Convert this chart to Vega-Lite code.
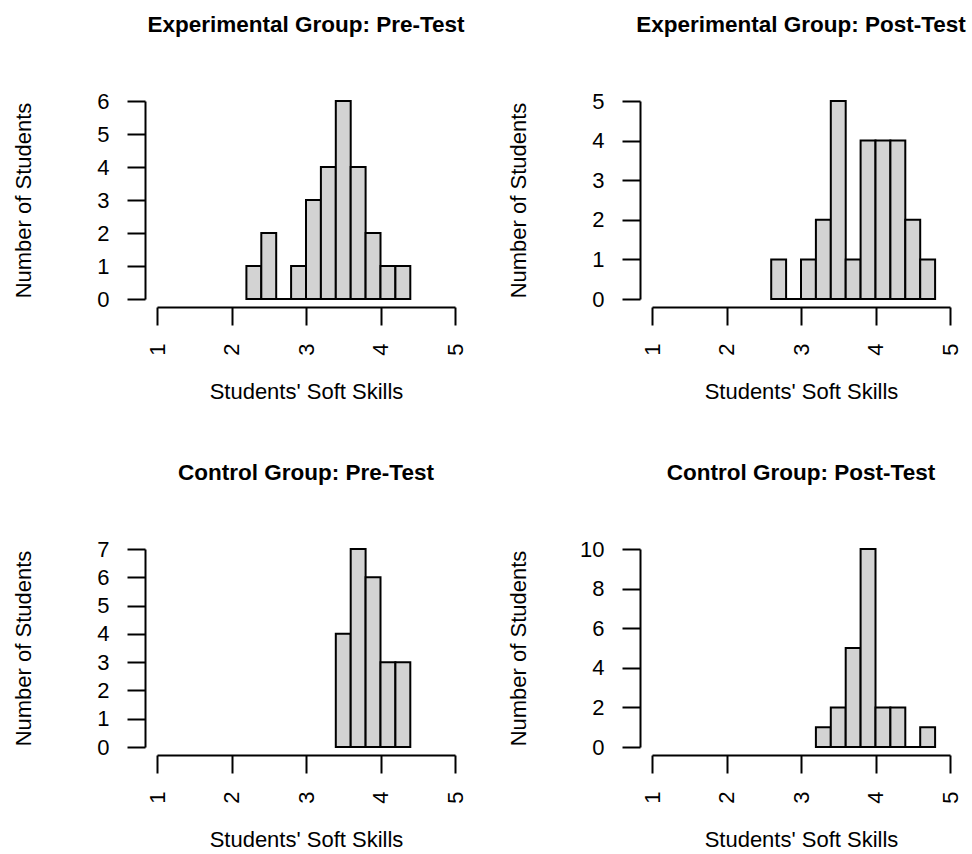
{
  "$schema": "https://vega.github.io/schema/vega-lite/v6.json",
  "background": "white",
  "padding": {"left": 12, "top": 13, "right": 5, "bottom": 5},
  "data": {"values": [
    {"panel": "Experimental Group: Pre-Test", "bin_start": 2.2, "bin_end": 2.4, "count": 1},
    {"panel": "Experimental Group: Pre-Test", "bin_start": 2.4, "bin_end": 2.6, "count": 2},
    {"panel": "Experimental Group: Pre-Test", "bin_start": 2.6, "bin_end": 2.8, "count": 0},
    {"panel": "Experimental Group: Pre-Test", "bin_start": 2.8, "bin_end": 3.0, "count": 1},
    {"panel": "Experimental Group: Pre-Test", "bin_start": 3.0, "bin_end": 3.2, "count": 3},
    {"panel": "Experimental Group: Pre-Test", "bin_start": 3.2, "bin_end": 3.4, "count": 4},
    {"panel": "Experimental Group: Pre-Test", "bin_start": 3.4, "bin_end": 3.6, "count": 6},
    {"panel": "Experimental Group: Pre-Test", "bin_start": 3.6, "bin_end": 3.8, "count": 4},
    {"panel": "Experimental Group: Pre-Test", "bin_start": 3.8, "bin_end": 4.0, "count": 2},
    {"panel": "Experimental Group: Pre-Test", "bin_start": 4.0, "bin_end": 4.2, "count": 1},
    {"panel": "Experimental Group: Pre-Test", "bin_start": 4.2, "bin_end": 4.4, "count": 1},
    {"panel": "Experimental Group: Post-Test", "bin_start": 2.6, "bin_end": 2.8, "count": 1},
    {"panel": "Experimental Group: Post-Test", "bin_start": 2.8, "bin_end": 3.0, "count": 0},
    {"panel": "Experimental Group: Post-Test", "bin_start": 3.0, "bin_end": 3.2, "count": 1},
    {"panel": "Experimental Group: Post-Test", "bin_start": 3.2, "bin_end": 3.4, "count": 2},
    {"panel": "Experimental Group: Post-Test", "bin_start": 3.4, "bin_end": 3.6, "count": 5},
    {"panel": "Experimental Group: Post-Test", "bin_start": 3.6, "bin_end": 3.8, "count": 1},
    {"panel": "Experimental Group: Post-Test", "bin_start": 3.8, "bin_end": 4.0, "count": 4},
    {"panel": "Experimental Group: Post-Test", "bin_start": 4.0, "bin_end": 4.2, "count": 4},
    {"panel": "Experimental Group: Post-Test", "bin_start": 4.2, "bin_end": 4.4, "count": 4},
    {"panel": "Experimental Group: Post-Test", "bin_start": 4.4, "bin_end": 4.6, "count": 2},
    {"panel": "Experimental Group: Post-Test", "bin_start": 4.6, "bin_end": 4.8, "count": 1},
    {"panel": "Control Group: Pre-Test", "bin_start": 3.4, "bin_end": 3.6, "count": 4},
    {"panel": "Control Group: Pre-Test", "bin_start": 3.6, "bin_end": 3.8, "count": 7},
    {"panel": "Control Group: Pre-Test", "bin_start": 3.8, "bin_end": 4.0, "count": 6},
    {"panel": "Control Group: Pre-Test", "bin_start": 4.0, "bin_end": 4.2, "count": 3},
    {"panel": "Control Group: Pre-Test", "bin_start": 4.2, "bin_end": 4.4, "count": 3},
    {"panel": "Control Group: Post-Test", "bin_start": 3.2, "bin_end": 3.4, "count": 1},
    {"panel": "Control Group: Post-Test", "bin_start": 3.4, "bin_end": 3.6, "count": 2},
    {"panel": "Control Group: Post-Test", "bin_start": 3.6, "bin_end": 3.8, "count": 5},
    {"panel": "Control Group: Post-Test", "bin_start": 3.8, "bin_end": 4.0, "count": 10},
    {"panel": "Control Group: Post-Test", "bin_start": 4.0, "bin_end": 4.2, "count": 2},
    {"panel": "Control Group: Post-Test", "bin_start": 4.2, "bin_end": 4.4, "count": 2},
    {"panel": "Control Group: Post-Test", "bin_start": 4.4, "bin_end": 4.6, "count": 0},
    {"panel": "Control Group: Post-Test", "bin_start": 4.6, "bin_end": 4.8, "count": 1}
  ]},
  "facet": {
    "field": "panel",
    "type": "nominal",
    "sort": ["Experimental Group: Pre-Test", "Experimental Group: Post-Test", "Control Group: Pre-Test", "Control Group: Post-Test"],
    "header": {
      "title": null,
      "labelFont": "Liberation Sans",
      "labelFontSize": 22.5,
      "labelFontWeight": "bold",
      "labelColor": "black",
      "labelPadding": 54
    }
  },
  "columns": 2,
  "spacing": {"column": 41, "row": 58},
  "resolve": {"scale": {"y": "independent"}, "axis": {"x": "independent", "y": "independent"}},
  "spec": {
    "width": 298,
    "height": 198,
    "mark": {"type": "bar", "fill": "#d3d3d3", "stroke": "black", "strokeWidth": 2},
    "encoding": {
      "x": {
        "field": "bin_start",
        "type": "quantitative",
        "scale": {"domain": [1, 5], "nice": false, "zero": false, "padding": 0},
        "axis": {
          "title": "Students' Soft Skills",
          "values": [1, 2, 3, 4, 5],
          "labelAngle": -90,
          "labelPadding": 18,
          "titlePadding": 26,
          "offset": 8
        }
      },
      "x2": {"field": "bin_end"},
      "y": {
        "field": "count",
        "type": "quantitative",
        "scale": {"nice": false, "zero": true, "padding": 0},
        "axis": {
          "title": "Number of Students",
          "tickCount": 7,
          "labelPadding": 18,
          "offset": 12,
          "titleX": -110,
          "titleY": 99
        }
      },
      "y2": {"datum": 0}
    }
  },
  "config": {
    "view": {"stroke": null},
    "axis": {
      "grid": false,
      "domainColor": "black",
      "domainWidth": 2,
      "tickColor": "black",
      "tickWidth": 2,
      "tickSize": 18,
      "labelFont": "Liberation Sans",
      "labelFontSize": 22,
      "labelColor": "black",
      "titleFont": "Liberation Sans",
      "titleFontSize": 22,
      "titleFontWeight": "normal",
      "titleColor": "black"
    }
  }
}
